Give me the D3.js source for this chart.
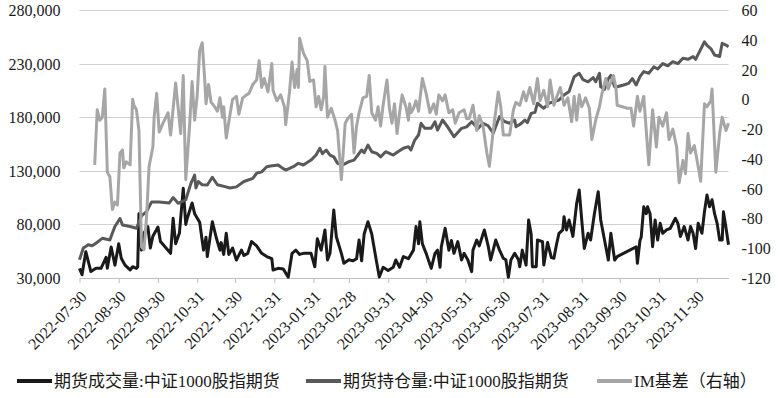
<!DOCTYPE html>
<html lang="zh">
<head>
<meta charset="UTF-8">
<title>IM 成交量、持仓量与基差</title>
<script src="https://d3js.org/d3.v7.min.js"></script>
<style>
  body { margin: 0; background: #fff; }
  svg text { font-family: "Liberation Serif", "Noto Sans CJK SC", serif; fill: #1a1a1a; }
</style>
</head>
<body>
<svg id="chart" width="780" height="398"></svg>
<script>
// 期货成交量:中证1000股指期货 (left axis)
const volume = [
  ["2022-07-30",39000],["2022-08-01",33000],["2022-08-04",54500],["2022-08-08",36000],["2022-08-12",39000],["2022-08-16",39000],
  ["2022-08-20",49300],["2022-08-21",39000],["2022-08-24",59000],["2022-08-27",42000],["2022-08-30",62000],["2022-09-01",48400],
  ["2022-09-04",42000],["2022-09-08",37500],["2022-09-10",40500],["2022-09-13",39000],["2022-09-14",40500],["2022-09-15",90000],
  ["2022-09-17",56000],["2022-09-19",72000],["2022-09-22",78000],["2022-09-24",58000],["2022-09-26",69000],["2022-09-30",77600],
  ["2022-10-02",64000],["2022-10-10",53000],["2022-10-12",85700],["2022-10-14",62000],["2022-10-17",72000],["2022-10-20",113700],
  ["2022-10-22",80000],["2022-10-23",85000],["2022-10-27",100000],["2022-10-29",90000],["2022-11-02",82000],["2022-11-05",56000],
  ["2022-11-07",68000],["2022-11-08",50000],["2022-11-12",82500],["2022-11-15",68000],["2022-11-18",56000],["2022-11-19",63000],
  ["2022-11-21",52000],["2022-11-23",71700],["2022-11-25",52000],["2022-11-28",58000],["2022-12-01",46800],["2022-12-05",56000],
  ["2022-12-07",51000],["2022-12-10",53000],["2022-12-13",64000],["2022-12-17",60000],["2022-12-21",53000],["2022-12-25",50000],
  ["2022-12-29",48000],["2022-12-30",37500],["2023-01-03",39000],["2023-01-07",38500],["2023-01-11",30700],["2023-01-14",53000],
  ["2023-01-17",56000],["2023-01-20",52000],["2023-01-23",53000],["2023-01-29",53000],["2023-02-01",40500],["2023-02-03",66700],
  ["2023-02-06",56000],["2023-02-09",74800],["2023-02-11",46800],["2023-02-13",53000],["2023-02-16",93400],["2023-02-18",68500],
  ["2023-02-22",53000],["2023-02-24",43700],["2023-02-28",47000],["2023-03-03",46000],["2023-03-06",48000],["2023-03-08",65400],
  ["2023-03-10",46000],["2023-03-12",71000],["2023-03-15",82500],["2023-03-18",71000],["2023-03-22",43700],["2023-03-24",31000],
  ["2023-03-27",40000],["2023-03-31",37000],["2023-04-04",40000],["2023-04-06",46800],["2023-04-09",40000],["2023-04-12",50000],
  ["2023-04-16",48000],["2023-04-20",56000],["2023-04-22",78000],["2023-04-24",62000],["2023-04-25",82500],["2023-04-27",62000],
  ["2023-04-30",53000],["2023-05-04",39000],["2023-05-07",53000],["2023-05-09",56000],["2023-05-11",40000],["2023-05-12",59000],
  ["2023-05-15",76400],["2023-05-18",56000],["2023-05-20",65000],["2023-05-22",53000],["2023-05-25",63900],["2023-05-28",46800],
  ["2023-05-30",53000],["2023-06-02",46800],["2023-06-05",35900],["2023-06-06",56000],["2023-06-09",65400],["2023-06-11",60000],
  ["2023-06-15",74800],["2023-06-18",60000],["2023-06-20",46800],["2023-06-24",65400],["2023-06-27",56000],["2023-06-30",48400],
  ["2023-07-02",47000],["2023-07-04",30700],["2023-07-06",46800],["2023-07-09",53000],["2023-07-12",47000],["2023-07-13",40500],
  ["2023-07-15",56000],["2023-07-18",42000],["2023-07-20",84100],["2023-07-22",71000],["2023-07-23",40500],["2023-07-26",40500],
  ["2023-07-27",65400],["2023-07-31",63900],["2023-08-01",42100],["2023-08-04",63100],["2023-08-07",49000],["2023-08-09",48400],
  ["2023-08-11",61000],["2023-08-13",71700],["2023-08-16",74800],["2023-08-17",87200],["2023-08-19",74800],["2023-08-21",84100],
  ["2023-08-24",68800],["2023-08-27",99700],["2023-08-29",112000],["2023-08-31",84100],["2023-09-02",57600],["2023-09-05",71700],
  ["2023-09-07",65400],["2023-09-10",90000],["2023-09-13",110500],["2023-09-15",84100],["2023-09-18",65400],["2023-09-21",46800],
  ["2023-09-23",71700],["2023-09-26",46800],["2023-09-28",50000],["2023-10-13",59000],["2023-10-14",43700],["2023-10-16",65000],
  ["2023-10-17",68000],["2023-10-19",96500],["2023-10-21",90000],["2023-10-22",96500],["2023-10-24",90000],["2023-10-26",59200],
  ["2023-10-28",84100],["2023-10-30",65400],["2023-11-01",81000],["2023-11-03",71700],["2023-11-06",74800],["2023-11-09",76400],
  ["2023-11-13",85700],["2023-11-15",81000],["2023-11-17",68800],["2023-11-20",78000],["2023-11-23",65400],["2023-11-25",78000],
  ["2023-11-27",71700],["2023-11-29",57600],["2023-12-01",81000],["2023-12-04",71700],["2023-12-06",91800],["2023-12-08",107400],
  ["2023-12-10",96500],["2023-12-12",103000],["2023-12-14",90000],["2023-12-16",81000],["2023-12-18",65400],["2023-12-20",65400],
  ["2023-12-21",91800],["2023-12-23",77000],["2023-12-25",61000]
];

// 期货持仓量:中证1000股指期货 (left axis)
const openInterest = [
  ["2022-07-30",47000],["2022-08-02",58000],["2022-08-06",61000],["2022-08-09",60000],["2022-08-12",62400],["2022-08-17",67000],
  ["2022-08-23",65400],["2022-08-25",72000],["2022-08-27",78000],["2022-08-31",85500],["2022-09-02",79400],["2022-09-08",78000],
  ["2022-09-13",76400],["2022-09-17",88000],["2022-09-21",92000],["2022-09-25",101000],["2022-10-01",101000],["2022-10-09",100000],
  ["2022-10-12",105000],["2022-10-16",99700],["2022-10-22",103000],["2022-10-26",118000],["2022-10-29",126000],["2022-10-30",114000],
  ["2022-11-01",120000],["2022-11-04",117000],["2022-11-08",116700],["2022-11-12",124000],["2022-11-16",117000],["2022-11-22",115200],
  ["2022-11-26",114000],["2022-12-01",115000],["2022-12-07",120000],["2022-12-14",123000],["2022-12-17",127700],["2022-12-21",129000],
  ["2022-12-25",133800],["2022-12-28",134500],["2023-01-03",135400],["2023-01-07",132000],["2023-01-09",130700],["2023-01-15",133800],
  ["2023-01-19",137000],["2023-01-23",135400],["2023-01-29",140000],["2023-02-02",144700],["2023-02-05",151000],["2023-02-07",146000],
  ["2023-02-10",149400],["2023-02-13",144700],["2023-02-16",143000],["2023-02-19",137000],["2023-02-23",135400],["2023-02-28",138500],
  ["2023-03-04",140000],["2023-03-07",144700],["2023-03-10",149400],["2023-03-12",147000],["2023-03-15",154000],["2023-03-18",147800],
  ["2023-03-22",146300],["2023-03-25",143000],["2023-03-29",147800],["2023-04-04",144700],["2023-04-08",148000],["2023-04-12",151000],
  ["2023-04-16",152500],["2023-04-18",149400],["2023-04-21",158700],["2023-04-24",163400],["2023-04-26",174300],["2023-04-29",169600],
  ["2023-05-04",169600],["2023-05-07",175800],["2023-05-09",168000],["2023-05-13",177400],["2023-05-17",171000],["2023-05-22",161800],
  ["2023-05-28",169600],["2023-06-01",171000],["2023-06-05",175800],["2023-06-10",169600],["2023-06-14",174300],["2023-06-18",172000],
  ["2023-06-22",165000],["2023-06-27",180500],["2023-07-01",176000],["2023-07-05",174300],["2023-07-09",177400],["2023-07-10",171000],
  ["2023-07-14",174000],["2023-07-17",177400],["2023-07-19",175000],["2023-07-22",183600],["2023-07-25",184500],["2023-07-27",193000],
  ["2023-07-30",190000],["2023-08-01",188300],["2023-08-05",193000],["2023-08-09",194500],["2023-08-13",196000],["2023-08-17",200700],
  ["2023-08-21",204000],["2023-08-25",217800],["2023-08-29",221000],["2023-09-01",215000],["2023-09-05",213000],["2023-09-09",217000],
  ["2023-09-11",213000],["2023-09-14",221000],["2023-09-15",208400],["2023-09-18",206000],["2023-09-21",216000],["2023-09-23",219000],
  ["2023-09-26",208400],["2023-09-28",208400],["2023-10-03",210000],["2023-10-07",211600],["2023-10-10",216000],["2023-10-13",210000],
  ["2023-10-16",217800],["2023-10-19",222500],["2023-10-23",221000],["2023-10-27",227000],["2023-10-30",225000],["2023-11-03",230000],
  ["2023-11-07",228000],["2023-11-11",231800],["2023-11-15",230000],["2023-11-19",235000],["2023-11-23",234000],["2023-11-27",236600],
  ["2023-11-29",234000],["2023-12-02",241000],["2023-12-06",250400],["2023-12-08",247000],["2023-12-11",244000],["2023-12-14",238000],
  ["2023-12-18",236600],["2023-12-20",249000],["2023-12-23",247300],["2023-12-25",245800]
];

// IM基差（右轴）
const basis = [
  ["2022-08-11",-44],["2022-08-13",-7],["2022-08-15",-14],["2022-08-17",-12],["2022-08-19",7],["2022-08-21",-49],["2022-08-23",-52],
  ["2022-08-25",-74],["2022-08-27",-69],["2022-08-29",-71],["2022-08-31",-36],["2022-09-02",-34],["2022-09-03",-46],["2022-09-05",-42],
  ["2022-09-08",-44],["2022-09-10",0],["2022-09-11",-4],["2022-09-13",-7],["2022-09-15",-21],["2022-09-17",-99],["2022-09-19",-101],
  ["2022-09-21",-79],["2022-09-23",-45],["2022-09-26",-32],["2022-09-27",-12],["2022-09-29",4],["2022-10-01",-22],["2022-10-04",-16],
  ["2022-10-08",-9],["2022-10-10",-24],["2022-10-14",11],["2022-10-18",-23],["2022-10-20",16],["2022-10-22",-54],["2022-10-25",-18],
  ["2022-10-27",12],["2022-10-29",-14],["2022-10-31",2],["2022-11-02",33],["2022-11-04",38],["2022-11-06",13],["2022-11-07",-3],
  ["2022-11-09",10],["2022-11-11",-2],["2022-11-13",-4],["2022-11-16",-8],["2022-11-18",1],["2022-11-20",-12],["2022-11-21",-5],
  ["2022-11-23",-26],["2022-11-26",-10],["2022-11-28",0],["2022-12-01",2],["2022-12-03",-10],["2022-12-06",1],["2022-12-09",3],
  ["2022-12-11",4],["2022-12-14",10],["2022-12-17",13],["2022-12-19",26],["2022-12-21",8],["2022-12-23",14],["2022-12-26",5],
  ["2022-12-29",24],["2022-12-30",6],["2023-01-02",-1],["2023-01-05",3],["2023-01-08",-5],["2023-01-09",-17],["2023-01-12",5],
  ["2023-01-14",25],["2023-01-16",8],["2023-01-18",20],["2023-01-19",8],["2023-01-20",41],["2023-01-23",31],["2023-01-26",26],
  ["2023-01-28",12],["2023-01-31",13],["2023-02-02",-5],["2023-02-04",2],["2023-02-06",-7],["2023-02-08",2],["2023-02-09",22],
  ["2023-02-11",-12],["2023-02-14",-6],["2023-02-17",-14],["2023-02-19",-21],["2023-02-22",-54],["2023-02-25",-16],["2023-02-27",-13],
  ["2023-03-02",-10],["2023-03-04",-36],["2023-03-06",-18],["2023-03-08",-9],["2023-03-11",1],["2023-03-14",2],["2023-03-16",16],
  ["2023-03-18",-9],["2023-03-21",-14],["2023-03-23",-5],["2023-03-25",-18],["2023-03-27",-4],["2023-03-30",13],["2023-04-01",-6],
  ["2023-04-03",-16],["2023-04-05",-3],["2023-04-07",-23],["2023-04-09",-9],["2023-04-11",3],["2023-04-14",-5],["2023-04-16",-14],
  ["2023-04-17",-3],["2023-04-18",-9],["2023-04-20",-6],["2023-04-22",-1],["2023-04-24",-8],["2023-04-27",14],["2023-04-30",4],
  ["2023-05-03",-9],["2023-05-06",-3],["2023-05-08",-10],["2023-05-10",3],["2023-05-13",-1],["2023-05-15",3],["2023-05-18",-9],
  ["2023-05-21",-7],["2023-05-23",-16],["2023-05-26",-9],["2023-05-30",-7],["2023-06-01",-13],["2023-06-03",-13],["2023-06-06",-4],
  ["2023-06-09",-21],["2023-06-11",-11],["2023-06-14",-18],["2023-06-17",-36],["2023-06-19",-45],["2023-06-22",-21],["2023-06-24",-8],
  ["2023-06-26",5],["2023-06-28",-5],["2023-06-30",-24],["2023-07-03",-24],["2023-07-05",-24],["2023-07-08",-7],["2023-07-10",-2],
  ["2023-07-13",-4],["2023-07-16",5],["2023-07-18",-1],["2023-07-21",8],["2023-07-24",-3],["2023-07-27",14],["2023-07-29",-1],
  ["2023-08-01",6],["2023-08-04",-5],["2023-08-06",13],["2023-08-09",-4],["2023-08-11",1],["2023-08-14",8],["2023-08-17",-4],
  ["2023-08-20",1],["2023-08-23",-15],["2023-08-25",2],["2023-08-27",-14],["2023-08-29",3],["2023-08-31",-5],["2023-09-03",1],
  ["2023-09-06",-6],["2023-09-08",-27],["2023-09-11",-14],["2023-09-14",-5],["2023-09-16",4],["2023-09-19",14],["2023-09-21",7],
  ["2023-09-25",16],["2023-09-27",8],["2023-09-28",-4],["2023-10-06",-6],["2023-10-09",-6],["2023-10-11",-18],["2023-10-14",2],
  ["2023-10-16",-8],["2023-10-19",2],["2023-10-21",-21],["2023-10-23",-44],["2023-10-26",-7],["2023-10-29",-32],["2023-10-31",-12],
  ["2023-11-03",-18],["2023-11-06",-9],["2023-11-08",-27],["2023-11-11",-20],["2023-11-14",-32],["2023-11-16",-56],["2023-11-19",-41],
  ["2023-11-21",-50],["2023-11-23",-23],["2023-11-25",-36],["2023-11-28",-31],["2023-12-01",-45],["2023-12-03",-55],["2023-12-06",-3],
  ["2023-12-08",-5],["2023-12-11",-1],["2023-12-12",7],["2023-12-15",-49],["2023-12-18",-23],["2023-12-20",-12],["2023-12-23",-21],
  ["2023-12-25",-16]
];

const xTickLabels = ["2022-07-30","2022-08-30","2022-09-30","2022-10-31","2022-11-30","2022-12-31","2023-01-31","2023-02-28",
  "2023-03-31","2023-04-30","2023-05-31","2023-06-30","2023-07-31","2023-08-31","2023-09-30","2023-10-31","2023-11-30"];
const leftTicks = [30000, 80000, 130000, 180000, 230000, 280000];
const rightTicks = [-120, -100, -80, -60, -40, -20, 0, 20, 40, 60];
const seriesNames = ["期货成交量:中证1000股指期货", "期货持仓量:中证1000股指期货", "IM基差（右轴）"];
const seriesColors = ["#1a1a1a", "#595959", "#a6a6a6"];

const parse = d3.timeParse("%Y-%m-%d");
const svg = d3.select("#chart");

const plot = { left: 79.5, right: 728.5, top: 10, bottom: 278 };

const x = d3.scaleTime()
  .domain([parse("2022-07-30"), parse("2023-12-25")])
  .range([plot.left, plot.right]);
const yLeft = d3.scaleLinear().domain([30000, 280000]).range([plot.bottom, plot.top]);
const yRight = d3.scaleLinear().domain([-120, 60]).range([plot.bottom, plot.top]);

// gridlines
svg.append("g")
  .selectAll("line")
  .data(leftTicks.filter(t => t !== 30000))
  .join("line")
  .attr("x1", plot.left).attr("x2", plot.right)
  .attr("y1", d => Math.round(yLeft(d)) + 0.5).attr("y2", d => Math.round(yLeft(d)) + 0.5)
  .attr("stroke", "#d0d0d0").attr("stroke-width", 1);

// left axis
const gl = svg.append("g")
  .attr("transform", `translate(${plot.left},0)`)
  .call(d3.axisLeft(yLeft).tickValues(leftTicks).tickSize(0).tickPadding(19).tickFormat(d3.format(",")));
gl.select(".domain").remove();
gl.selectAll("text").attr("font-size", 16).attr("dy", "0.34em");

// right axis
const gr = svg.append("g")
  .attr("transform", `translate(${plot.right},0)`)
  .call(d3.axisRight(yRight).tickValues(rightTicks).tickSize(0).tickPadding(13).tickFormat(d => d < 0 ? "-" + Math.abs(d) : d));
gr.select(".domain").remove();
gr.selectAll("text").attr("font-size", 16).attr("dy", "0.34em");

// bottom axis
const gx = svg.append("g")
  .attr("transform", `translate(0,${plot.bottom})`)
  .call(d3.axisBottom(x).tickValues(xTickLabels.map(parse)).tickSize(5).tickSizeOuter(0).tickFormat(d3.timeFormat("%Y-%m-%d")));
gx.select(".domain").attr("stroke", "#bfbfbf");
gx.selectAll(".tick line").attr("stroke", "#bfbfbf");
gx.selectAll("text")
  .attr("font-size", 16)
  .attr("text-anchor", "end")
  .attr("dy", 0)
  .attr("transform", "translate(2,14) rotate(-45)");

// series lines
const lineL = d3.line().x(d => x(parse(d[0]))).y(d => yLeft(d[1]));
const lineR = d3.line().x(d => x(parse(d[0]))).y(d => yRight(d[1]));

svg.append("path").datum(volume).attr("d", lineL)
  .attr("fill", "none").attr("stroke", seriesColors[0]).attr("stroke-width", 3).attr("stroke-linejoin", "round");
svg.append("path").datum(openInterest).attr("d", lineL)
  .attr("fill", "none").attr("stroke", seriesColors[1]).attr("stroke-width", 3).attr("stroke-linejoin", "round");
svg.append("path").datum(basis).attr("d", lineR)
  .attr("fill", "none").attr("stroke", seriesColors[2]).attr("stroke-width", 3).attr("stroke-linejoin", "round");

// legend
const legendX = [17, 306, 597];
const legend = svg.append("g").attr("transform", "translate(0,381)");
seriesNames.forEach((name, i) => {
  legend.append("line")
    .attr("x1", legendX[i]).attr("x2", legendX[i] + 35)
    .attr("stroke", seriesColors[i]).attr("stroke-width", 4);
  legend.append("text")
    .attr("x", legendX[i] + 37).attr("dy", "0.35em")
    .attr("font-size", 17)
    .text(name);
});
</script>
</body>
</html>
